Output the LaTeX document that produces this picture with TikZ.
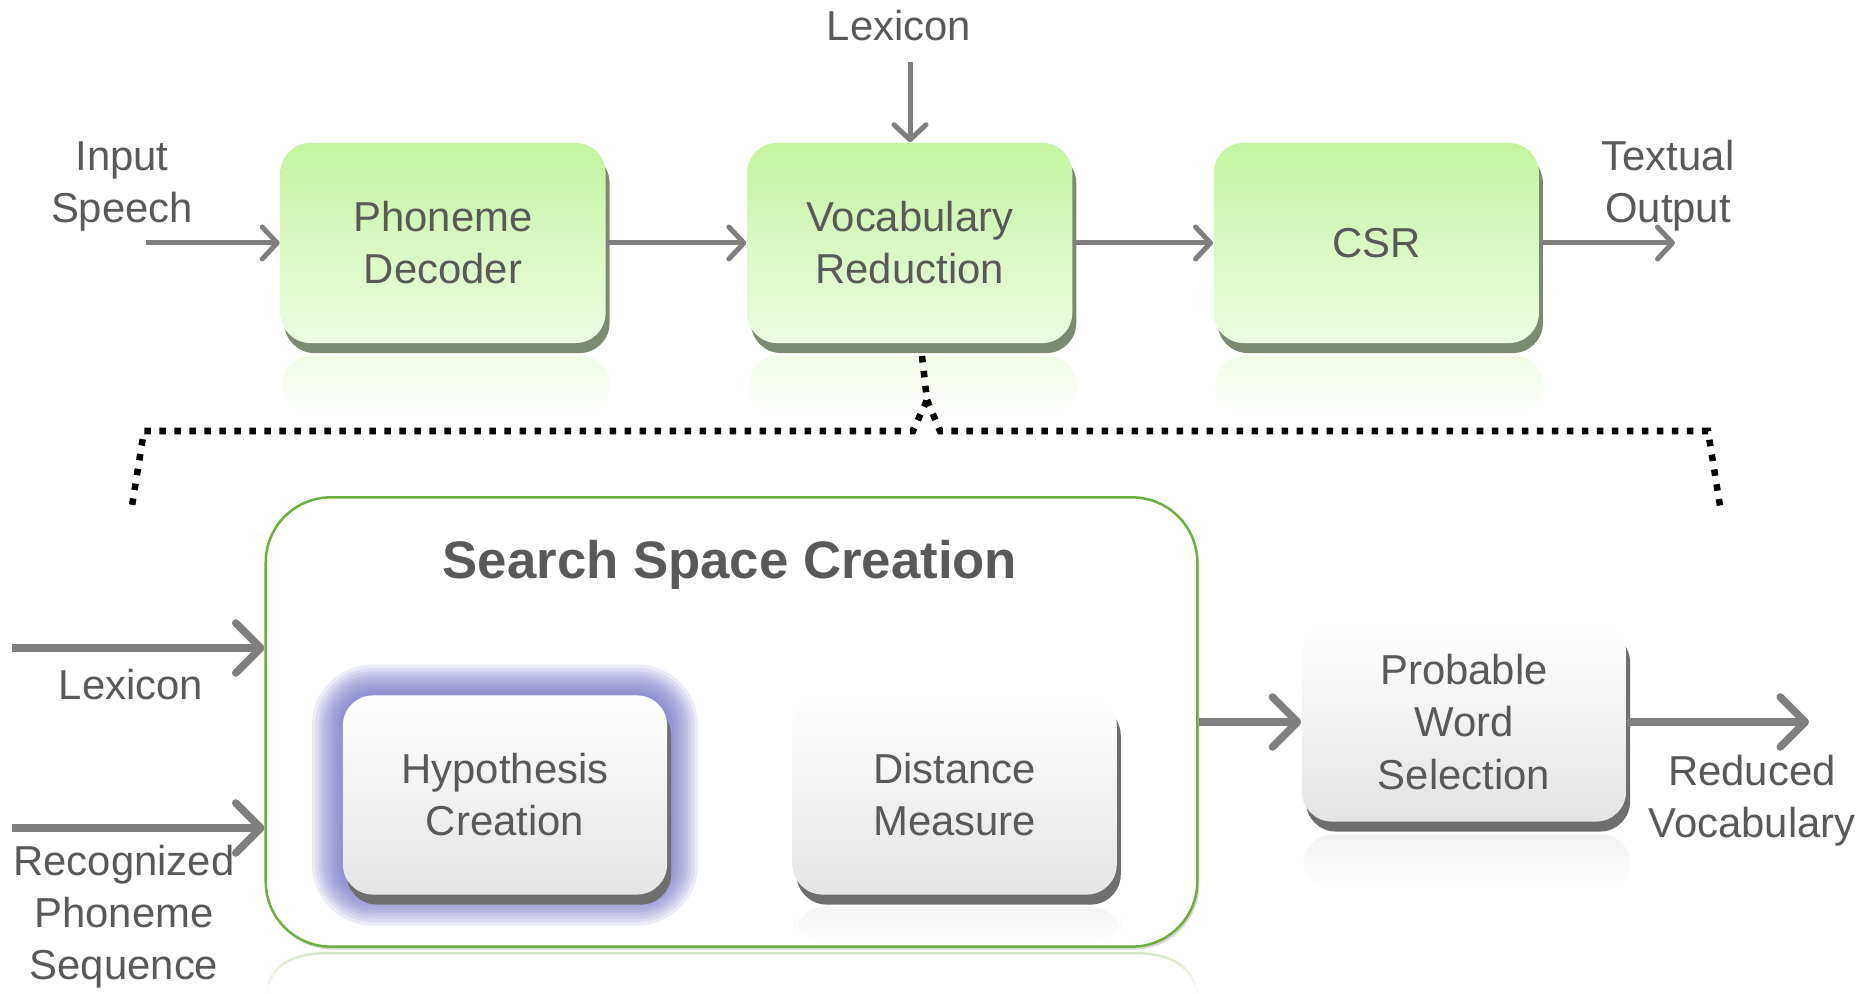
\documentclass[tikz,border=0pt]{standalone}
\usepackage{fontspec}
\setmainfont{Liberation Sans}
\usepackage{tikz}
\usetikzlibrary{arrows.meta, positioning, calc, shadows, fadings}
\definecolor{txtgray}{HTML}{595959}
\definecolor{arrgray}{HTML}{7F7F7F}
\definecolor{greentop}{HTML}{C4F4A0}
\definecolor{greenbot}{HTML}{ECFCE2}
\definecolor{greenshade}{HTML}{7C8A72}
\definecolor{graytop}{HTML}{FFFFFF}
\definecolor{graybot}{HTML}{E4E4E4}
\definecolor{grayshade}{HTML}{6E6E6E}
\definecolor{haloblue}{HTML}{7070C8}
\definecolor{framegreen}{HTML}{6CAF3C}
\newcommand\boxfont{\fontsize{11.9pt}{14.8pt}\selectfont}
\newcommand\sscfont{\fontsize{15pt}{18pt}\selectfont\bfseries}
\tikzfading[name=fadedown, top color=transparent!30, bottom color=transparent!100]

\begin{document}
\begin{tikzpicture}[
  x=0.01cm, y=-0.01cm,
  node distance=1.4cm,
  every node/.style={text=txtgray, font=\boxfont},
  lbl/.style={align=center, inner sep=0pt},
  stage/.style={rectangle, rounded corners=0.3cm, draw=none, minimum width=3.25cm, minimum height=2cm, align=center, top color=greentop, bottom color=greenbot, general shadow={shadow xshift=0.04cm, shadow yshift=-0.1cm, fill=greenshade}},
  block/.style={rectangle, rounded corners=0.3cm, draw=none, minimum width=3.24cm, minimum height=1.99cm, align=center, top color=graytop, bottom color=graybot, general shadow={shadow xshift=0.04cm, shadow yshift=-0.1cm, fill=grayshade}},
  halo/.style={
    preaction={draw=haloblue, line join=round, line width=0.62cm, opacity=0.13},
    preaction={draw=haloblue, line join=round, line width=0.55cm, opacity=0.13},
    preaction={draw=haloblue, line join=round, line width=0.48cm, opacity=0.13},
    preaction={draw=haloblue, line join=round, line width=0.42cm, opacity=0.13},
    preaction={draw=haloblue, line join=round, line width=0.36cm, opacity=0.13},
    preaction={draw=haloblue, line join=round, line width=0.30cm, opacity=0.13},
    preaction={draw=haloblue, line join=round, line width=0.24cm, opacity=0.13},
    preaction={draw=haloblue, line join=round, line width=0.18cm, opacity=0.13},
    preaction={draw=haloblue, line join=round, line width=0.12cm, opacity=0.13},
    preaction={draw=haloblue, line join=round, line width=0.06cm, opacity=0.13}},
  frame/.style={rectangle, rounded corners=0.65cm, draw=framegreen, line width=0.025cm, fill=white, minimum width=9.31cm, minimum height=4.49cm, drop shadow={shadow xshift=0.02cm, shadow yshift=-0.03cm, opacity=0.3}},
  arrow/.style={draw=arrgray, line width=0.05cm, -{Straight Barb[length=0.15cm, width=0.32cm, round]}},
  bigarrow/.style={draw=arrgray, line width=0.075cm, -{Straight Barb[length=0.25cm, width=0.5cm, round]}},
  brace/.style={draw=black, line width=0.065cm, dash pattern=on 0.065cm off 0.085cm},
]
\useasboundingbox (0,0) rectangle (1862,994);

% top pipeline
\node[stage] (phon) at (443,243) {Phoneme\\Decoder};
\node[stage, right=of phon] (voc) {Vocabulary\\Reduction};
\node[stage, right=of voc] (csr) {CSR};

\foreach \b in {phon,voc,csr}
  \fill[greentop, path fading=fadedown, opacity=0.35, rounded corners=0.3cm] ($(\b.south west)+(2,12)$) rectangle ($(\b.south east)+(4,72)$);

\coordinate (speechin) at (146,243);
\coordinate (textout) at (1675,243);
\coordinate (lexin) at (910,62);
\node[lbl] (inlbl) at (122,186) {Input\\Speech};
\node[lbl] (outlbl) at (1668,186) {Textual\\Output};
\node[lbl] (lexlbl) at (899,26) {Lexicon};

\draw[arrow] (speechin) -- (phon);
\draw[arrow] (phon) -- (voc);
\draw[arrow] (voc) -- (csr);
\draw[arrow] (csr) -- (textout);
\draw[arrow] (lexin) -- (lexin |- voc.north);

% zoom bracket
\coordinate (bracetip) at (922,356);
\coordinate (bracefork) at (927,400);
\draw[brace] (bracetip) -- (bracefork) -- (913,431) -- (144,431) -- (131,512);
\draw[brace] (bracefork) -- (940,431) -- (1708,431) -- (1721,512);

% search space creation
\node[frame] (ssc) at (731.5,722) {};
\draw[framegreen!70, path fading=fadedown, opacity=0.6, line width=0.025cm] (266,994) .. controls (270,966) and (290,953) .. (331,953) -- (1131,953) .. controls (1172,953) and (1192,966) .. (1197,994);
\node[font=\sscfont] (ssctitle) at (730,565) {Search Space Creation};
\node[halo, block] (hypo) at (505,795) {Hypothesis\\Creation};
\node[block, right=1.24cm of hypo] (dist) {Distance\\Measure};
\node[block] (prob) at (1464,722) {Probable\\Word\\Selection};

\fill[graybot, path fading=fadedown, opacity=0.5, rounded corners=0.3cm] ($(dist.south west)+(2,12)$) rectangle ($(dist.south east)+(4,48)$);
\fill[graybot, path fading=fadedown, opacity=0.6, rounded corners=0.3cm] ($(prob.south west)+(2,12)$) rectangle ($(prob.south east)+(4,68)$);

\coordinate (lexsrc) at (12,648);
\coordinate (phseq) at (12,828);
\coordinate (vocout) at (1809,722);
\node[lbl] (lexlbl2) at (131,685) {Lexicon};
\node[lbl] (rpslbl) at (124,917) {Recognized\\Phoneme\\Sequence};
\node[lbl] (redlbl) at (1752,801) {Reduced\\Vocabulary};

\draw[bigarrow] (lexsrc) -- (lexsrc -| ssc.west);
\draw[bigarrow] (phseq) -- (phseq -| ssc.west);
\draw[bigarrow] (ssc) -- (prob);
\draw[bigarrow] (prob) -- (vocout);

\end{tikzpicture}
\end{document}
